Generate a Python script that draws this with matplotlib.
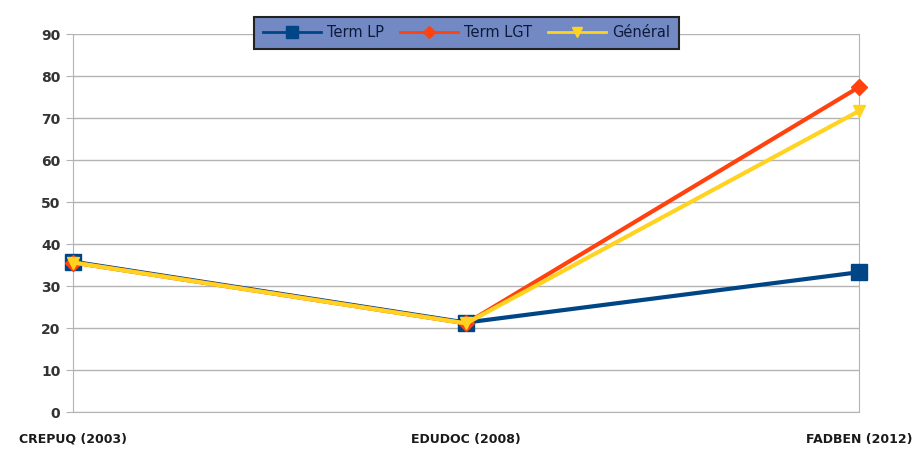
import matplotlib.pyplot as plt

categories = ["CREPUQ (2003)", "EDUDOC (2008)", "FADBEN (2012)"]
term_lp = [35.8, 21.3, 33.3]
term_lgt = [35.6, 21.1, 77.4]
general = [35.6, 21.1, 71.7]

fig = plt.figure(figsize=(9.2, 4.5), dpi=100)
ax = fig.add_axes([0.0793, 0.0844, 0.8547, 0.84])

x = range(len(categories))
ax.plot(x, term_lp, color="#004586", lw=3, marker="s", ms=11, label="Term LP", zorder=3, clip_on=False)
ax.plot(x, term_lgt, color="#ff420e", lw=3, marker="D", ms=8, label="Term LGT", zorder=4, clip_on=False)
ax.plot(x, general, color="#ffd320", lw=3, marker="v", ms=9, label="Général", zorder=5, clip_on=False)

ax.set_xlim(0, 2)
ax.set_ylim(0, 90)
ax.set_yticks(range(0, 91, 10))
ax.set_xticks(list(x))
ax.set_xticklabels(categories)
ax.grid(axis="y", color="#b3b3b3", lw=1)
ax.set_axisbelow(True)
for s in ax.spines.values():
    s.set_color("#b3b3b3")
ax.spines["top"].set_visible(False)
ax.tick_params(axis="y", length=5, color="#b3b3b3", labelsize=10, labelcolor="#333333", pad=4)
ax.tick_params(axis="x", length=0, labelsize=9, labelcolor="#1a1a1a", pad=15)
for t in ax.get_yticklabels() + ax.get_xticklabels():
    t.set_fontweight("bold")

leg = fig.legend(loc="center", bbox_to_anchor=(0.507, 0.927), ncol=3,
                 frameon=True, fancybox=False, handlelength=4.0,
                 columnspacing=1.1, handletextpad=0.4, fontsize=10.5,
                 borderpad=0.6, markerscale=0.75)
leg.get_frame().set_facecolor("#7289c4")
leg.get_frame().set_edgecolor("#222222")
leg.get_frame().set_alpha(1)
leg.get_frame().set_linewidth(1.5)
for line in leg.get_lines():
    line.set_linewidth(2)
for t in leg.get_texts():
    t.set_color("#0d1a3a")

fig.savefig("out.png", dpi=100)
